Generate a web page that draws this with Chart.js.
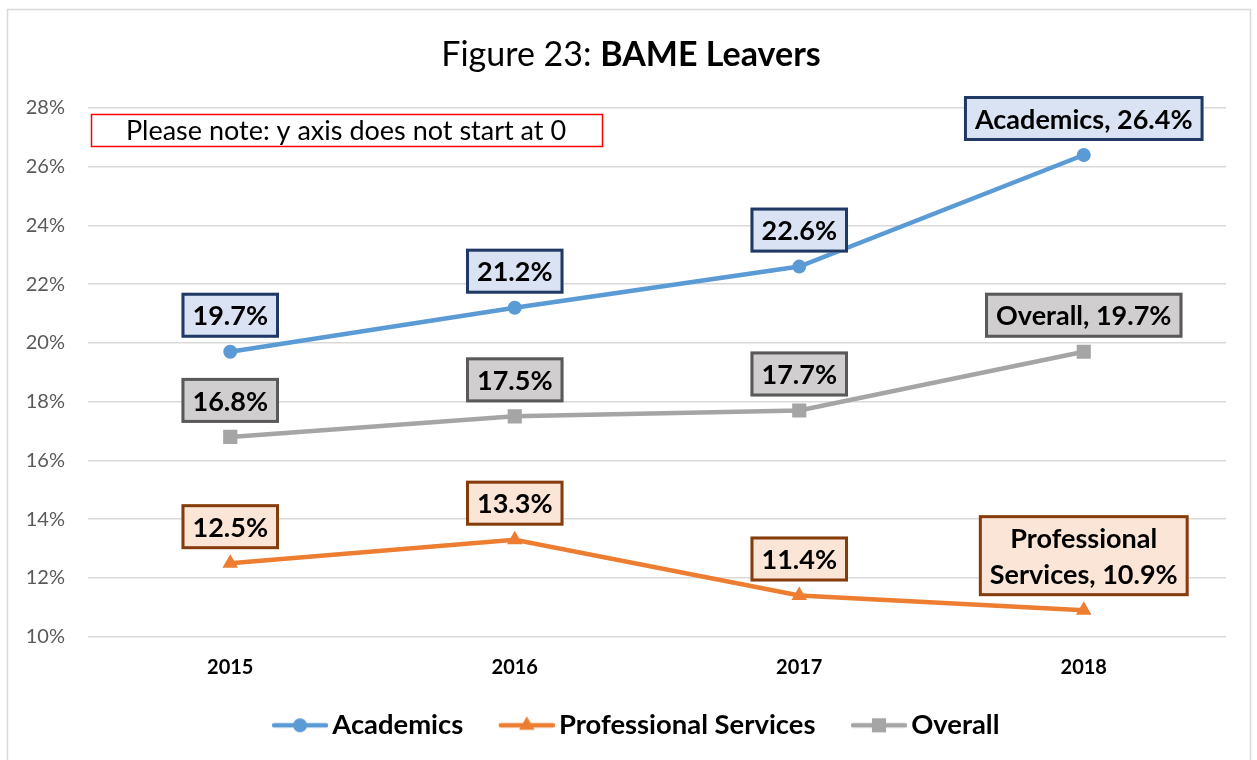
<!DOCTYPE html>
<html><head><meta charset="utf-8">
<script src="https://cdn.jsdelivr.net/npm/chart.js@4.4.0/dist/chart.umd.min.js"></script>
<style>html,body{margin:0;padding:0;background:#fff}#wrap{width:1257px;height:760px;position:relative}</style>
</head><body><div id="wrap"><canvas id="c" width="1257" height="760"></canvas></div>
<script>
const categories = ['2015', '2016', '2017', '2018'];
const academics = [19.7, 21.2, 22.6, 26.4];
const professionalServices = [12.5, 13.3, 11.4, 10.9];
const overall = [16.8, 17.5, 17.7, 19.7];
const seriesNames = ['Academics', 'Professional Services', 'Overall'];
const yMin = 10, yMax = 28, yStep = 2;
const titleRegular = 'Figure 23: ';
const titleBold = 'BAME Leavers';
const noteText = 'Please note: y axis does not start at 0';

const FONT = 'Lato';
const lineColors = ['#5b9bd5', '#ed7d31', '#a5a5a5'];
const pointStyles = ['circle', 'triangle', 'rect'];
const pointRadii = [7, 9, 10];
const boxStyles = [
  { fill: '#dae3f3', stroke: '#203864' },
  { fill: '#fbe5d6', stroke: '#843c0c' },
  { fill: '#d0cece', stroke: '#595959' }
];

const LEG_FS = 27.4;
const LEG_BOX = 72;
function legendCanvas(i) {
  const cv = document.createElement('canvas');
  cv.width = Math.round(LEG_BOX + LEG_FS - 8); cv.height = 22;
  const c = cv.getContext('2d');
  const x0 = cv.width - 56, x1 = cv.width, cy = 11;
  c.strokeStyle = lineColors[i]; c.lineWidth = 4.5; c.lineCap = 'round';
  c.beginPath(); c.moveTo(x0 + 2, cy); c.lineTo(x1 - 2, cy); c.stroke();
  c.fillStyle = lineColors[i];
  const mx = (x0 + x1) / 2, r = pointRadii[i];
  c.beginPath();
  if (pointStyles[i] === 'circle') { c.arc(mx, cy, r, 0, Math.PI * 2); }
  else if (pointStyles[i] === 'triangle') {
    c.moveTo(mx, cy - r); c.lineTo(mx + r * 0.866, cy + r * 0.5); c.lineTo(mx - r * 0.866, cy + r * 0.5); c.closePath();
  } else { const s = r * Math.SQRT1_2; c.rect(mx - s, cy - s, 2 * s, 2 * s); }
  c.fill();
  return cv;
}

const decorPlugin = {
  id: 'decor',
  beforeDraw(chart) {
    const ctx = chart.ctx;
    ctx.save();
    ctx.fillStyle = '#fff'; ctx.fillRect(0, 0, chart.width, chart.height);
    ctx.strokeStyle = '#d9d9d9'; ctx.lineWidth = 1.5;
    ctx.strokeRect(7.5, 9.5, 1243, 770);
    ctx.font = '34px ' + FONT;
    const w1 = ctx.measureText(titleRegular).width;
    ctx.font = 'bold 34px ' + FONT;
    const w2 = ctx.measureText(titleBold).width;
    const start = 631 - (w1 + w2) / 2;
    ctx.fillStyle = '#000'; ctx.textBaseline = 'middle'; ctx.textAlign = 'left';
    ctx.font = '34px ' + FONT; ctx.fillText(titleRegular, start, 55);
    ctx.font = 'bold 34px ' + FONT; ctx.fillText(titleBold, start + w1, 55);
    ctx.restore();
  },
  afterDraw(chart) {
    const ctx = chart.ctx;
    ctx.save();
    ctx.strokeStyle = '#ff0000'; ctx.lineWidth = 1.5;
    ctx.strokeRect(91.5, 114.5, 511, 32);
    ctx.fillStyle = '#000'; ctx.font = '27px ' + FONT;
    ctx.textAlign = 'center'; ctx.textBaseline = 'middle';
    ctx.fillText(noteText, 346, 131);
    ctx.restore();
  }
};

function wrapText(ctx, text, maxW) {
  const words = text.split(' ');
  const lines = [];
  let cur = '';
  words.forEach(w => {
    const t = cur ? cur + ' ' + w : w;
    if (cur && ctx.measureText(t).width > maxW) { lines.push(cur); cur = w; }
    else cur = t;
  });
  if (cur) lines.push(cur);
  return lines;
}

const labelPlugin = {
  id: 'boxLabels',
  afterDatasetsDraw(chart) {
    const ctx = chart.ctx;
    ctx.save();
    ctx.font = 'bold 27px ' + FONT;
    chart.data.datasets.forEach((ds, di) => {
      const meta = chart.getDatasetMeta(di);
      meta.data.forEach((pt, i) => {
        const val = ds.data[i].toFixed(1) + '%';
        const txt = i === ds.data.length - 1 ? ds.label + ', ' + val : val;
        const lines = wrapText(ctx, txt, 235);
        const tw = Math.max(...lines.map(l => ctx.measureText(l).width));
        const w = tw + 22;
        const lh = 36;
        const h = 45 + (lines.length - 1) * lh;
        const bottom = pt.y - 14, top = bottom - h, left = pt.x - w / 2;
        ctx.fillStyle = boxStyles[di].fill;
        ctx.fillRect(left, top, w, h);
        ctx.strokeStyle = boxStyles[di].stroke; ctx.lineWidth = 3;
        ctx.strokeRect(left + 1.5, top + 1.5, w - 3, h - 3);
        ctx.fillStyle = '#000'; ctx.textAlign = 'center'; ctx.textBaseline = 'middle';
        lines.forEach((l, k) => ctx.fillText(l, pt.x, top + 24 + k * lh));
      });
    });
    ctx.restore();
  }
};

const seriesData = [academics, professionalServices, overall];
new Chart(document.getElementById('c'), {
  type: 'line',
  data: {
    labels: categories,
    datasets: seriesNames.map((n, i) => ({
      label: n,
      data: seriesData[i],
      borderColor: lineColors[i],
      backgroundColor: lineColors[i],
      borderWidth: 4.5,
      pointStyle: pointStyles[i],
      pointRadius: pointRadii[i],
      pointHoverRadius: pointRadii[i],
      pointBorderWidth: 0,
      tension: 0,
      fill: false
    }))
  },
  options: {
    responsive: false,
    animation: false,
    devicePixelRatio: 1,
    layout: { padding: { left: 20, right: 31, top: 108, bottom: 11 } },
    plugins: {
      title: { display: false },
      tooltip: { enabled: false },
      legend: {
        position: 'bottom',
        labels: {
          usePointStyle: true,
          pointStyleWidth: LEG_BOX,
          padding: 10,
          color: '#000',
          font: { family: FONT, size: LEG_FS, weight: 'bold' },
          generateLabels(chart) {
            const items = Chart.defaults.plugins.legend.labels.generateLabels(chart);
            items.forEach((it, i) => { it.pointStyle = legendCanvas(i); });
            return items;
          }
        }
      }
    },
    scales: {
      x: {
        offset: true,
        grid: { display: false, drawTicks: false },
        border: { display: false },
        ticks: { padding: 19, color: '#000', font: { family: FONT, size: 20, weight: 'bold' } },
        afterFit(s) { s.height = 65; }
      },
      y: {
        min: yMin, max: yMax,
        grid: { color: '#d9d9d9', lineWidth: 1.5, drawTicks: false },
        border: { display: false },
        ticks: {
          stepSize: yStep, padding: 23, color: '#595959',
          font: { family: FONT, size: 20 },
          callback: v => v + '%'
        },
        afterFit(s) { s.width = 68; }
      }
    }
  },
  plugins: [decorPlugin, labelPlugin]
});
</script></body></html>
